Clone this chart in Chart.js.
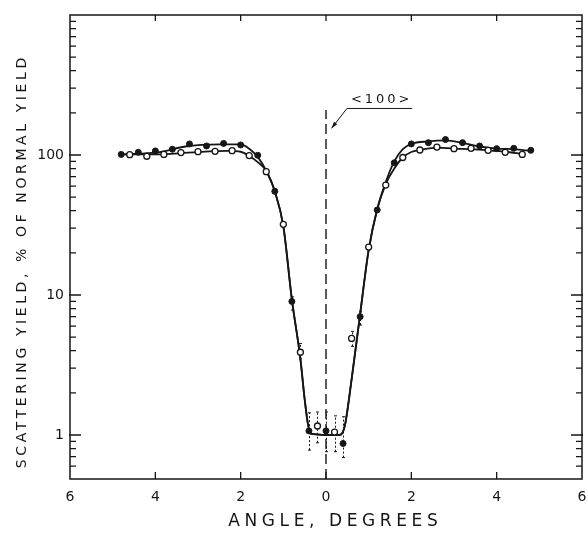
<!DOCTYPE html>
<html>
<head>
<meta charset="utf-8">
<script src="https://cdn.jsdelivr.net/npm/chart.js@4.4.1/dist/chart.umd.min.js"></script>
<style>
  html, body { margin: 0; padding: 0; background: #fff; }
  #wrap { width: 588px; height: 535px; }
</style>
</head>
<body>
<div id="wrap"><canvas id="chart" width="588" height="535"></canvas></div>
<script>
// measured points, filled circles
const filledAngles = [-4.8, -4.4, -4.0, -3.6, -3.2, -2.8, -2.4, -2.0, -1.6, -1.2, -0.8, -0.4, 0.0, 0.4, 0.8, 1.2, 1.6, 2.0, 2.4, 2.8, 3.2, 3.6, 4.0, 4.4, 4.8];
const filledYield = [101, 104.5, 107, 110, 120, 116, 121, 118, 99.5, 55, 9.0, 1.07, 1.07, 0.87, 7.0, 40.5, 88, 120, 122.5, 129, 122.5, 116, 111, 111.6, 108];
const filledErrLow = [null, null, null, null, null, null, null, null, null, null, 7.8, 0.78, 0.76, 0.69, 6.1, null, null, null, null, null, null, null, null, null, null];
const filledErrHigh = [null, null, null, null, null, null, null, null, null, null, 9.7, 1.44, 1.46, 1.35, 7.6, null, null, null, null, null, null, null, null, null, null];

// measured points, open circles
const openAngles = [-4.6, -4.2, -3.8, -3.4, -3.0, -2.6, -2.2, -1.8, -1.4, -1.0, -0.6, -0.2, 0.2, 0.6, 1.0, 1.4, 1.8, 2.2, 2.6, 3.0, 3.4, 3.8, 4.2, 4.6];
const openYield = [100.5, 98, 101, 104, 105.6, 106.3, 107.3, 99, 76, 32, 3.9, 1.16, 1.05, 4.9, 22, 61, 96, 108.6, 114, 111, 111.6, 108, 104.5, 101];
const openErrLow = [null, null, null, null, null, null, null, null, null, null, 3.5, 0.88, 0.76, 4.3, null, null, null, null, null, null, null, null, null, null];
const openErrHigh = [null, null, null, null, null, null, null, null, null, null, 4.5, 1.46, 1.37, 5.5, null, null, null, null, null, null, null, null, null, null];

// hand-drawn curves through the points
const upperCurveX = [-4.8, -3.9, -3.3, -2.5, -2.0, -1.8, -1.6, -1.4, -1.2, -1.0, -0.8, -0.6, -0.5, -0.42, -0.35, 0.3, 0.38, 0.45, 0.6, 0.8, 1.0, 1.2, 1.4, 1.6, 1.8, 2.0, 2.4, 2.8, 3.2, 3.6, 4.0, 4.4, 4.8];
const upperCurveY = [101, 105, 115, 119, 119, 111, 97, 77, 55, 31, 9.3, 3.5, 1.8, 1.18, 1.02, 1.0, 1.03, 1.2, 2.5, 7.3, 21, 41, 64, 90, 110, 120, 125, 127, 122, 115, 111, 110, 107];
const lowerCurveX = [-4.8, -3.9, -3.4, -3.0, -2.3, -2.0, -1.8, -1.6, -1.4, -1.2, -1.0, -0.8, -0.6, -0.5, -0.42, -0.35, 0.3, 0.38, 0.45, 0.6, 0.8, 1.0, 1.2, 1.4, 1.6, 1.8, 2.0, 2.2, 2.6, 3.0, 3.4, 3.8, 4.2, 4.6];
const lowerCurveY = [101, 101, 103, 105, 107, 105.5, 98.5, 89, 77, 55, 31, 9.3, 3.5, 1.8, 1.18, 1.02, 1.0, 1.03, 1.2, 2.5, 7.3, 21, 41, 62, 80, 96, 105, 108.5, 113, 111, 110, 108, 105.5, 102];

// <100> channel direction
const channelX = [0, 0];
const channelY = [0.485, 210];

// axes
const yMin = 0.485, yMax = 1000;
const yLabelValues = [1, 10, 100];
const yLabelText = ['1', '10', '100'];
const yMinorTicks = [0.6, 0.7, 0.8, 0.9, 2, 3, 4, 5, 6, 7, 8, 9, 20, 30, 40, 50, 60, 70, 80, 90, 200, 300, 400, 500, 600, 700, 800, 900];
const xInnerTicks = [-4, -2, 0, 2, 4];

const ink = '#161616';
const font = '"DejaVu Sans", sans-serif';

const pts = (xs, ys) => xs.map((x, i) => ({ x: x, y: ys[i] }));

const errorBars = {
    id: 'errorBars',
    beforeDatasetsDraw(chart) {
        const { ctx, scales: { x, y } } = chart;
        ctx.save();
        ctx.strokeStyle = ink;
        ctx.lineWidth = 1;
        const draw = (angles, lo, hi) => {
            angles.forEach((a, i) => {
                if (lo[i] == null) return;
                const px = Math.round(x.getPixelForValue(a)) + 0.5;
                const y1 = y.getPixelForValue(lo[i]);
                const y2 = y.getPixelForValue(hi[i]);
                ctx.setLineDash([2, 2]);
                ctx.beginPath();
                ctx.moveTo(px, y1); ctx.lineTo(px, y2);
                ctx.stroke();
                ctx.setLineDash([]);
                ctx.beginPath();
                ctx.moveTo(px - 1.5, y1); ctx.lineTo(px + 1.5, y1);
                ctx.moveTo(px - 1.5, y2); ctx.lineTo(px + 1.5, y2);
                ctx.stroke();
            });
        };
        draw(filledAngles, filledErrLow, filledErrHigh);
        draw(openAngles, openErrLow, openErrHigh);
        ctx.restore();
    }
};

const frame = {
    id: 'frame',
    afterDraw(chart) {
        const { ctx, chartArea: a, scales: { x, y } } = chart;
        ctx.save();
        ctx.strokeStyle = ink;
        ctx.fillStyle = ink;
        ctx.lineWidth = 1.5;
        ctx.strokeRect(a.left, a.top, a.right - a.left, a.bottom - a.top);

        ctx.lineWidth = 1.3;
        ctx.beginPath();
        yLabelValues.forEach(v => {
            const py = y.getPixelForValue(v);
            ctx.moveTo(a.left - 1, py); ctx.lineTo(a.left + 11, py);
            ctx.moveTo(a.right + 1, py); ctx.lineTo(a.right - 11, py);
        });
        yMinorTicks.forEach(v => {
            const py = y.getPixelForValue(v);
            ctx.moveTo(a.left, py); ctx.lineTo(a.left + 6, py);
            ctx.moveTo(a.right, py); ctx.lineTo(a.right - 6, py);
        });
        xInnerTicks.forEach(v => {
            const px = x.getPixelForValue(v);
            ctx.moveTo(px, a.top); ctx.lineTo(px, a.top + 6);
            ctx.moveTo(px, a.bottom); ctx.lineTo(px, a.bottom - 7);
        });
        ctx.stroke();

        // <100> label with leader arrow
        const tx = x.getPixelForValue(1.27), ty = y.getPixelForValue(249);
        ctx.font = '13px ' + font;
        ctx.letterSpacing = '3px';
        ctx.textBaseline = 'middle';
        const tw = ctx.measureText('<100>').width - 3;
        ctx.fillText('<100>', tx - tw / 2, ty);
        const lx = [2.02, 0.49, 0.13].map(v => x.getPixelForValue(v));
        const ly = [215, 215, 155].map(v => y.getPixelForValue(v));
        ctx.lineWidth = 1;
        ctx.beginPath();
        ctx.moveTo(lx[0], ly[0]); ctx.lineTo(lx[1], ly[1]); ctx.lineTo(lx[2], ly[2]);
        ctx.stroke();
        const ang = Math.atan2(ly[2] - ly[1], lx[2] - lx[1]);
        ctx.beginPath();
        ctx.moveTo(lx[2], ly[2]);
        ctx.lineTo(lx[2] - 7 * Math.cos(ang - 0.3), ly[2] - 7 * Math.sin(ang - 0.3));
        ctx.lineTo(lx[2] - 7 * Math.cos(ang + 0.3), ly[2] - 7 * Math.sin(ang + 0.3));
        ctx.closePath();
        ctx.fill();

        // axis titles, lettered wide
        ctx.textBaseline = 'middle';
        ctx.font = '17px ' + font;
        ctx.letterSpacing = '4.6px';
        let t = 'ANGLE, DEGREES';
        let w = ctx.measureText(t).width - 4.6;
        ctx.fillText(t, 333 - w / 2, 522);

        ctx.font = '14px ' + font;
        ctx.letterSpacing = '3.6px';
        t = 'SCATTERING YIELD, % OF NORMAL YIELD';
        w = ctx.measureText(t).width - 3.6;
        ctx.translate(22, 263);
        ctx.rotate(-Math.PI / 2);
        ctx.fillText(t, -w / 2, 0);
        ctx.restore();
    }
};

new Chart(document.getElementById('chart'), {
    type: 'scatter',
    data: {
        datasets: [
            {
                label: 'filled',
                data: pts(filledAngles, filledYield),
                pointRadius: 3,
                pointBackgroundColor: ink,
                pointBorderColor: ink,
                pointBorderWidth: 1,
                showLine: false,
                order: 0
            },
            {
                label: 'open',
                data: pts(openAngles, openYield),
                pointRadius: 3,
                pointBackgroundColor: '#fff',
                pointBorderColor: ink,
                pointBorderWidth: 1.3,
                showLine: false,
                order: 1
            },
            {
                label: 'upper curve',
                data: pts(upperCurveX, upperCurveY),
                showLine: true,
                pointRadius: 0,
                borderColor: ink,
                borderWidth: 1.8,
                cubicInterpolationMode: 'monotone',
                order: 2
            },
            {
                label: 'lower curve',
                data: pts(lowerCurveX, lowerCurveY),
                showLine: true,
                pointRadius: 0,
                borderColor: ink,
                borderWidth: 1.8,
                cubicInterpolationMode: 'monotone',
                order: 3
            },
            {
                label: '<100>',
                data: pts(channelX, channelY),
                showLine: true,
                pointRadius: 0,
                borderColor: ink,
                borderWidth: 1.4,
                borderDash: [10, 5],
                order: 4
            }
        ]
    },
    options: {
        responsive: false,
        animation: false,
        layout: { padding: { top: 15, right: 6, left: 0, bottom: 0 } },
        plugins: { legend: { display: false }, tooltip: { enabled: false } },
        scales: {
            x: {
                type: 'linear',
                min: -6,
                max: 6,
                grid: { display: false, drawTicks: false },
                border: { display: false },
                ticks: {
                    stepSize: 2,
                    padding: 10,
                    color: ink,
                    font: { family: font, size: 14 },
                    callback: v => String(Math.abs(v))
                },
                afterFit: s => { s.height = 56; s.paddingLeft = 0; s.paddingRight = 0; }
            },
            y: {
                type: 'logarithmic',
                min: yMin,
                max: yMax,
                grid: { display: false, drawTicks: false },
                border: { display: false },
                afterBuildTicks: s => { s.ticks = yLabelValues.map(v => ({ value: v })); },
                ticks: {
                    autoSkip: false,
                    padding: 6,
                    color: ink,
                    font: { family: font, size: 14 },
                    callback: (v, i) => yLabelText[i]
                },
                afterFit: s => { s.width = 70; s.paddingTop = 0; s.paddingBottom = 0; }
            }
        }
    },
    plugins: [errorBars, frame]
});
</script>
</body>
</html>
